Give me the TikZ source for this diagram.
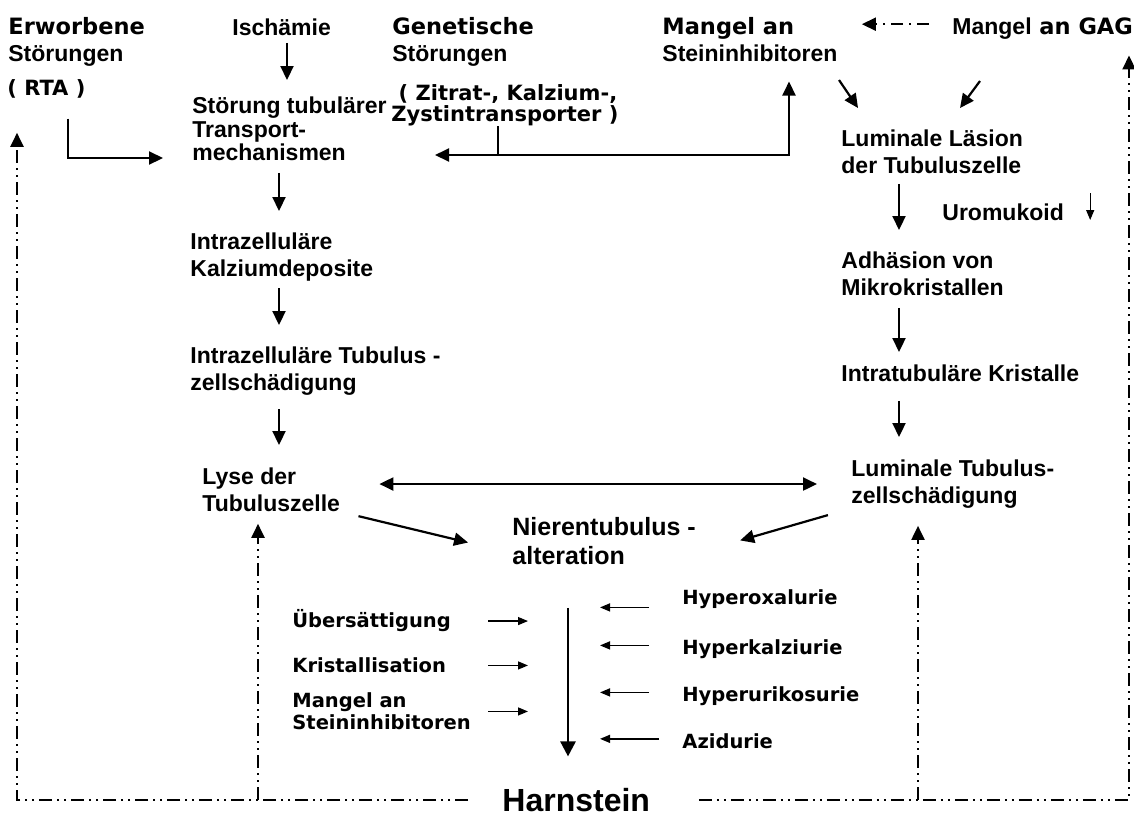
\documentclass[tikz,border=0pt]{standalone}
\usepackage{fontspec}
\setmainfont{Liberation Sans}
\newfontfamily\verdana{DejaVu Sans}
\usetikzlibrary{arrows.meta}
\tikzset{
  txt/.style={inner sep=0pt,anchor=north west,align=left,font=\bfseries\fontsize{11.5}{13.25}\selectfont},
  vtxt/.style={txt,font=\verdana\bfseries\fontsize{9.75}{11}\selectfont},
  arr/.style={line width=1.1pt,-{Triangle[length=7pt,width=6.5pt]}},
  arrS/.style={line width=0.65pt,-{Triangle[length=5pt,width=4pt]}},
  dd/.style={line width=1pt,dash pattern=on 6.5pt off 2.5pt on 1pt off 2.5pt on 1pt off 2.5pt,
    -{Triangle[length=7pt,width=6.5pt]}},
}
\newcommand{\vhead}[1]{{\verdana\fontsize{11.25}{13.25}\selectfont #1}}
\begin{document}
\begin{tikzpicture}[x=0.5pt,y=-0.5pt]
  \useasboundingbox (0,0) rectangle (1134,815);
  % columns for the arrows
  \coordinate (colI) at (287,0); \coordinate (colL) at (279,0);
  \coordinate (colR) at (899,0); \coordinate (colM) at (789,0);
  \coordinate (colV) at (568,0); \coordinate (colX) at (17,0);
  \coordinate (colY) at (258,0); \coordinate (colW) at (918,0);
  \coordinate (colZ) at (1129,0);
  \coordinate (colP) at (488,0); \coordinate (colQ) at (528,0);
  \coordinate (colS) at (649,0); \coordinate (colT) at (600,0);
  \coordinate (colU) at (659,0);
  % top row
  \node[txt] (erw) at (8,17.5) {\vhead{Erworbene}\\Störungen};
  \node[vtxt,font=\verdana\bfseries\fontsize{10.5}{12}\selectfont] (rta) at (7,79.5) {( RTA )};
  \node[txt] (isch) at (232,18.6) {Ischämie};
  \node[txt,font=\bfseries\fontsize{11.5}{11.75}\selectfont] (stoer) at (192,96.6) {Störung tubulärer\\Transport-\\mechanismen};
  \node[txt] (gen) at (392,17.5) {\vhead{Genetische}\\Störungen};
  \node[vtxt,font=\verdana\bfseries\fontsize{10.5}{10.5}\selectfont] (zit) at (391,84) {\ ( Zitrat-, Kalzium-,\\Zystintransporter )};
  \node[txt] (mang) at (662,17.5) {\vhead{Mangel an}\\Steininhibitoren};
  \node[txt] (gag) at (952,17.5) {Mangel\vhead{ an GAG}};
  % right chain
  \node[txt] (lumL) at (841,129.6) {Luminale Läsion\\der Tubuluszelle};
  \node[txt] (urom) at (942,203.6) {Uromukoid};
  \node[txt] (adh) at (841,251.6) {Adhäsion von\\Mikrokristallen};
  \node[txt] (intr) at (841,364.6) {Intratubuläre Kristalle};
  \node[txt] (lumT) at (851,459.6) {Luminale Tubulus-\\zellschädigung};
  % left chain
  \node[txt] (kalz) at (190,232.6) {Intrazelluläre\\Kalziumdeposite};
  \node[txt] (zell) at (190,346.6) {Intrazelluläre Tubulus -\\zellschädigung};
  \node[txt] (lyse) at (202,467.6) {Lyse der\\Tubuluszelle};
  \node[txt,font=\bfseries\fontsize{12.5}{14.5}\selectfont] (nier) at (512,517) {Nierentubulus -\\alteration};
  % factors
  \node[vtxt] (uebers) at (292,609.5) {Übersättigung};
  \node[vtxt] (krist) at (292,657.5) {Kristallisation};
  \node[vtxt] (mangS) at (292,692.5) {Mangel an\\Steininhibitoren};
  \node[vtxt] (hox) at (682,589.5) {Hyperoxalurie};
  \node[vtxt] (hca) at (682,639.5) {Hyperkalziurie};
  \node[vtxt] (hur) at (682,686.5) {Hyperurikosurie};
  \node[vtxt] (azi) at (682,733.5) {Azidurie};
  \node[inner sep=0pt,anchor=base west,font=\bfseries\fontsize{16}{18}\selectfont] (harn) at (502,811) {Harnstein};
  % left chain arrows
  \draw[arr,shorten <=3.3pt,shorten >=8.3pt] (isch.south -| colI) -- (stoer.north -| colI);
  \draw[arr,shorten <=5.8pt,shorten >=10.8pt] (stoer.south -| colL) -- (kalz.north -| colL);
  \draw[arr,shorten <=3.4pt,shorten >=10.8pt] (kalz.south -| colL) -- (zell.north -| colL);
  \draw[arr,shorten <=6.9pt,shorten >=11.3pt] (zell.south -| colL) -- (lyse.north -| colL);
  % right chain arrows
  \draw[arr,shorten <=5pt,shorten >=10.8pt] (lumL.south -| colR) -- (adh.north -| colR);
  \draw[arr,shorten <=6pt,shorten >=6.3pt] (adh.south -| colR) -- (intr.north -| colR);
  \draw[arr,shorten <=9.3pt,shorten >=11.3pt] (intr.south -| colR) -- (lumT.north -| colR);
  \draw[arrS] ([xshift=13pt,yshift=5.3pt]urom.north east) -- ++(0pt,-13.5pt);
  \draw[arr] (839,80) -- (858,108);
  \draw[arr] (980,81) -- (960,108);
  % genetic defects
  \coordinate (gj) at (498,155);
  \draw[line width=1.1pt] (zit.south -| gj) -- (gj);
  \draw[arr,shorten >=24pt] (gj) -- (gj -| stoer.east);
  \draw[arr,shorten >=9.7pt] (gj) -| (mang.south -| colM);
  \coordinate (rtaK) at (68,158);
  \draw[arr,shorten <=9.8pt,shorten >=14.5pt] (rta.south -| rtaK) -- (rtaK) -- (rtaK -| stoer.west);
  \draw[dd,dash pattern=on 6pt off 3pt on 1pt off 3pt,shorten <=11.5pt,shorten >=12pt,
    transform canvas={yshift=2.25pt}] (gag.west) -- (gag.west -| mang.east);
  % cross links
  \draw[line width=1.1pt,{Triangle[length=7pt,width=6.5pt]}-{Triangle[length=7pt,width=6.5pt]},
    shorten <=19.5pt,shorten >=17pt] (lyse.east |- lumT.west) -- (lumT.west);
  \draw[arr,shorten <=9.3pt,shorten >=22.6pt] (lyse.south east) -- ([yshift=-6pt]nier.west);
  \draw[arr,shorten <=12pt,shorten >=22.9pt] (lumT.south west) -- ([yshift=-6pt]nier.east);
  % main arrow with factors
  \draw[arr,line width=1.3pt,-{Triangle[length=7.5pt,width=7.5pt]},shorten <=21.4pt,shorten >=15.5pt]
    (nier.south -| colV) -- (harn.north -| colV);
  \draw[arrS] (uebers.east -| colP) -- (uebers.east -| colQ);
  \draw[arrS] (krist.east -| colP) -- (krist.east -| colQ);
  \draw[arrS] (mangS.east -| colP) -- (mangS.east -| colQ);
  \draw[arrS,transform canvas={yshift=-4pt}] (hox.west -| colS) -- (hox.west -| colT);
  \draw[arrS,transform canvas={yshift=2pt}] (hca.west -| colS) -- (hca.west -| colT);
  \draw[arrS,transform canvas={yshift=2pt}] (hur.west -| colS) -- (hur.west -| colT);
  \draw[arrS,transform canvas={yshift=1.3pt}] (azi.west -| colU) -- (azi.west -| colT);
  % feedback lines
  \draw[dd,shorten <=17pt,shorten >=16.9pt] (harn.west) -| (colX |- rta.south);
  \draw[dd,shorten >=6pt] (harn.west -| colY) -- (lyse.south -| colY);
  \draw[dd,shorten <=24.2pt,shorten >=7.8pt] (harn.east) -| (colZ |- gag.south);
  \draw[dd,shorten >=8.7pt] (harn.east -| colW) -- (lumT.south -| colW);
\end{tikzpicture}
\end{document}
